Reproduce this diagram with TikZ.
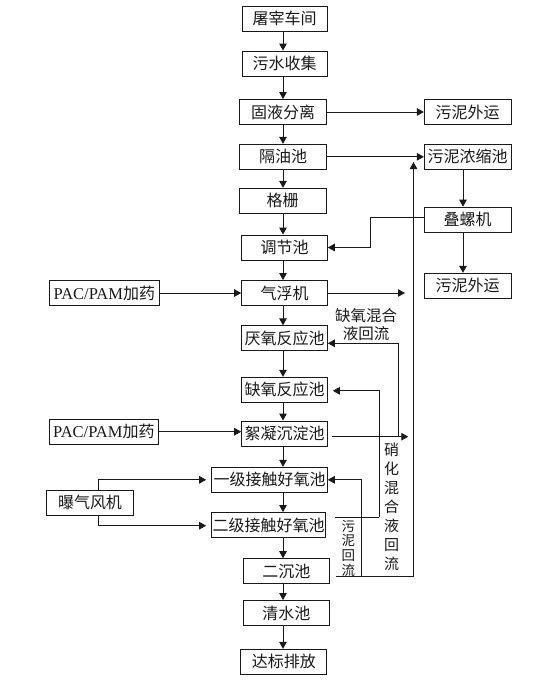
\documentclass[tikz,border=0pt]{standalone}
\usepackage{fontspec}
\setmainfont{Noto Sans CJK SC}
\newfontfamily\lat{Liberation Serif}
\usetikzlibrary{arrows.meta,calc}
\begin{document}
\begin{tikzpicture}[x=1pt,y=-1pt,
 box/.style={draw=black!90, line width=0.95pt, minimum height=25pt, inner sep=0pt, font=\fontsize{16}{18}\selectfont, text=black!90},
 arr/.style={draw=black!90, line width=0.95pt, -{Triangle[length=7pt,width=7.5pt]}},
 ln/.style={draw=black!90, line width=0.95pt},
 lbl/.style={inner sep=0pt, align=center, text=black!90}]
\useasboundingbox (0,0) rectangle (559,681);
% main column
\node[box, minimum width=85pt] (tz) at (284.5,18.5) {屠宰车间};
\node[box, minimum width=85pt] (ws) at (284.5,63.5) {污水收集};
\node[box, minimum width=87pt] (gy) at (283,112) {固液分离};
\node[box, minimum width=87pt] (gyc) at (283,156.8) {隔油池};
\node[box, minimum width=87pt] (gs) at (282.7,200.8) {格栅};
\node[box, minimum width=85.6pt] (tj) at (284.5,247.5) {调节池};
\node[box, minimum width=85.6pt] (qf) at (284.5,293) {气浮机};
\node[box, minimum width=85.6pt] (yy) at (284.5,338.3) {厌氧反应池};
\node[box, minimum width=85.6pt] (qy) at (284.5,389.8) {缺氧反应池};
\node[box, minimum width=85.6pt] (xn) at (284.5,433.5) {絮凝沉淀池};
\node[box, minimum width=115.6pt] (yj) at (269.5,479.8) {一级接触好氧池};
\node[box, minimum width=114pt] (ej) at (268.7,525) {二级接触好氧池};
\node[box, minimum width=86pt] (ec) at (286.3,571.2) {二沉池};
\node[box, minimum width=86pt] (qs) at (286.3,613) {清水池};
\node[box, minimum width=85.7pt] (db) at (283.8,661.8) {达标排放};
% side boxes
\node[box, minimum width=86.7pt] (wy1) at (467.7,112) {污泥外运};
\node[box, minimum width=86.7pt] (ns) at (467.7,156.8) {污泥浓缩池};
\node[box, minimum width=86.7pt] (dl) at (467.7,219.7) {叠螺机};
\node[box, minimum width=86.7pt] (wy2) at (467.7,285.8) {污泥外运};
\node[box, minimum width=110pt] (pac1) at (104.3,293) {{\lat\fontsize{16.5}{18}\selectfont PAC/PAM}加药};
\node[box, minimum width=109pt] (pac2) at (103.8,431.7) {{\lat\fontsize{16.5}{18}\selectfont PAC/PAM}加药};
\node[box, minimum width=86.6pt] (bq) at (90,502.5) {曝气风机};
% labels
\node[lbl, font=\fontsize{15.5}{18}\selectfont] (lq) at (366,325) {缺氧混合\\液回流};
\node[lbl, font=\fontsize{15}{18.9}\selectfont] (lx) at (391.7,506.7) {硝\\化\\混\\合\\液\\回\\流};
\node[lbl, font=\fontsize{13.5}{14.7}\selectfont] (lw) at (348.3,548) {污\\泥\\回\\流};
% main arrows
\coordinate (mx) at (283,0);
\foreach \a/\b in {tz/ws,ws/gy,gy/gyc,gyc/gs,gs/tj,tj/qf,qf/yy,yy/qy,qy/xn,xn/yj,yj/ej,ej/ec,ec/qs,qs/db}
  \draw[arr] (\a.south -| mx) -- (\b.north -| mx);
% right side
\draw[arr] (gy.east) -- (wy1.west);
\draw[arr] (gyc.east) -- (ns.west);
\coordinate (rx) at (463,0);
\draw[arr] (ns.south -| rx) -- (dl.north -| rx);
\draw[arr] (dl.south -| rx) -- (wy2.north -| rx);
\draw[arr] ($(dl.west)+(0,-2.4)$) -- (370.7,217.3) -- (370.7,247.5) -- (tj.east);
% dosing
\draw[arr] (pac1.east) -- (qf.west);
\draw[arr] (pac2.east) -- (pac2.east -| xn.west);
% outputs
\coordinate (qfend) at (405,293);
\draw[arr] (qf.east) -- (qfend);
\coordinate (xnend) at (408.3,436.7);
\draw[arr] ($(xn.east)+(4.4,3.2)$) -- (xnend);
% big sludge line
\coordinate (bigc) at (413.5,576);
\coordinate (bigtop) at (413.5,162);
\draw[ln] ($(ec.east)+(6.7,4.8)$) -- (bigc);
\draw[arr] (bigc) -- (bigtop);
% sludge return
\coordinate (w1) at (361.7,576);
\draw[arr] (w1) |- (yj.east);
% anoxic mixed liquor return
\coordinate (q1) at (398.3,436.7);
\draw[arr] (q1) |- ($(yy.east)+(0,5)$);
% nitrification return
\coordinate (n1) at (379,517.3);
\draw[ln] ($(ej.east)+(9.3,-7.7)$) -- (n1);
\draw[arr] (n1) |- ($(qy.east)+(5,1)$);
% blower
\draw[arr] ($(bq.north)+(8.3,0)$) |- ($(yj.west)+(-5,0)$);
\draw[arr] ($(bq.south)+(8.3,0)$) |- ($(ej.west)+(-5,0.7)$);
\end{tikzpicture}
\end{document}
